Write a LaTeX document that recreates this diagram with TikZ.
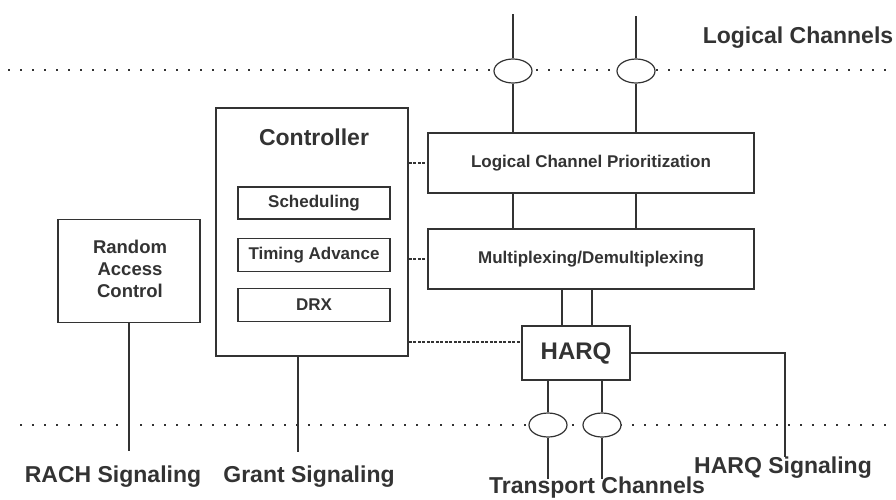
\documentclass[tikz,border=0pt]{standalone}
\usepackage{fontspec}
\setmainfont{Liberation Sans}
\usetikzlibrary{shapes.geometric}
\definecolor{ink}{HTML}{333333}
\begin{document}
\begin{tikzpicture}[x=1pt,y=-1pt,
  box/.style={draw=ink,line width=1.6pt,fill=white,inner sep=0pt},
  chan/.style={draw=ink,line width=1.2pt,ellipse,minimum width=38pt,minimum height=24pt,inner sep=0pt,fill=white},
  wire/.style={draw=ink,line width=2.2pt},
  dotline/.style={draw=ink,line width=2pt,dash pattern=on 2pt off 10pt},
  tick/.style={draw=ink,line width=1.8pt,dash pattern=on 3pt off 1.5pt},
  lbl/.style={text=ink,font=\bfseries\fontsize{23}{25}\selectfont,inner sep=0pt,anchor=base},
  small/.style={text=ink,font=\bfseries\fontsize{17}{19}\selectfont,inner sep=0pt}]
\useasboundingbox (0,0) rectangle (896,499);

% layer boundaries
\draw[dotline] (8,70) -- (893,70);
\draw[dotline] (20,425) -- (893,425);

% controller with its functions
\node[box,minimum width=192pt,minimum height=248pt] (ctrl) at (312,232) {};
\node[text=ink,font=\bfseries\fontsize{23}{25}\selectfont,inner sep=0pt,anchor=base] (ctrlt) at (314,145) {Controller};
\node[box,minimum width=152pt,minimum height=32pt] (sched) at (314,203) {};
\node[small] at (sched) {Scheduling};
\node[box,minimum width=152pt,minimum height=33pt] (ta) at (314,255) {};
\node[small] at (ta) {Timing Advance};
\node[box,minimum width=152pt,minimum height=33pt] (drx) at (314,305) {};
\node[small] at (drx) {DRX};

% random access control
\node[box,minimum width=142pt,minimum height=103pt] (rac) at (129,271) {};
\node[align=center,text=ink,inner sep=0pt,
      font=\bfseries\fontsize{18.5}{22}\selectfont] (ract) at (130,269) {Random\\Access\\Control};

% MAC processing chain
\node[box,minimum width=326pt,minimum height=60pt] (lcp) at (591,163) {};
\node[small] at (lcp) {Logical Channel Prioritization};
\node[box,minimum width=326pt,minimum height=60pt] (mux) at (591,259) {};
\node[small] at (mux) {Multiplexing/Demultiplexing};
\node[box,minimum width=108pt,minimum height=54pt] (harq) at (576,353) {};
\node[text=ink,inner sep=0pt,font=\bfseries\fontsize{24}{26}\selectfont] (harqt) at (576,353) {HARQ};

% channel points on the boundaries
\node[chan] (l1) at (513,71) {};
\node[chan] (l2) at (636,71) {};
\node[chan] (t1) at (548,425) {};
\node[chan] (t2) at (602,425) {};

% coordinates for free ends
\coordinate (l1top) at (513,14);
\coordinate (l2top) at (636,16);
\coordinate (t1bot) at (548,479);
\coordinate (t2bot) at (602,479);
\coordinate (racbot) at (129,451);
\coordinate (ctrlbot) at (298,452);
\coordinate (hcorner) at (785,353);
\coordinate (hbot) at (785,457);

% logical channels
\draw[wire] (l1top) -- (l1.north);
\draw[wire] (l2top) -- (l2.north);
\draw[wire] (l1.south) -- (l1.south |- lcp.north);
\draw[wire] (l2.south) -- (l2.south |- lcp.north);
\draw[wire] (l1 |- lcp.south) -- (l1 |- mux.north);
\draw[wire] (l2 |- lcp.south) -- (l2 |- mux.north);

% mux to HARQ
\draw[wire] (562,289) -- (562,326);
\draw[wire] (592,289) -- (592,326);

% transport channels
\draw[wire] (t1 |- harq.south) -- (t1.north);
\draw[wire] (t2 |- harq.south) -- (t2.north);
\draw[wire] (t1.south) -- (t1bot);
\draw[wire] (t2.south) -- (t2bot);

% signaling lines
\draw[wire] (rac.south) -- (racbot);
\draw[wire] (ctrl.south -| ctrlbot) -- (ctrlbot);
\draw[wire] (harq.east) -- (hcorner) -- (hbot);

% control links
\draw[tick] (ctrl.east |- lcp) -- (lcp.west);
\draw[tick] (ctrl.east |- mux) -- (mux.west);
\draw[tick] (ctrl.east |- 0,342) -- (harq.west |- 0,342);

% labels
\node[lbl] (lc) at (798,43) {Logical Channels};
\node[lbl] (rs) at (113,482) {RACH Signaling};
\node[lbl] (gs) at (309,482) {Grant Signaling};
\node[lbl] (tc) at (597,493) {Transport Channels};
\node[lbl] (hs) at (783,473) {HARQ Signaling};
\end{tikzpicture}
\end{document}
